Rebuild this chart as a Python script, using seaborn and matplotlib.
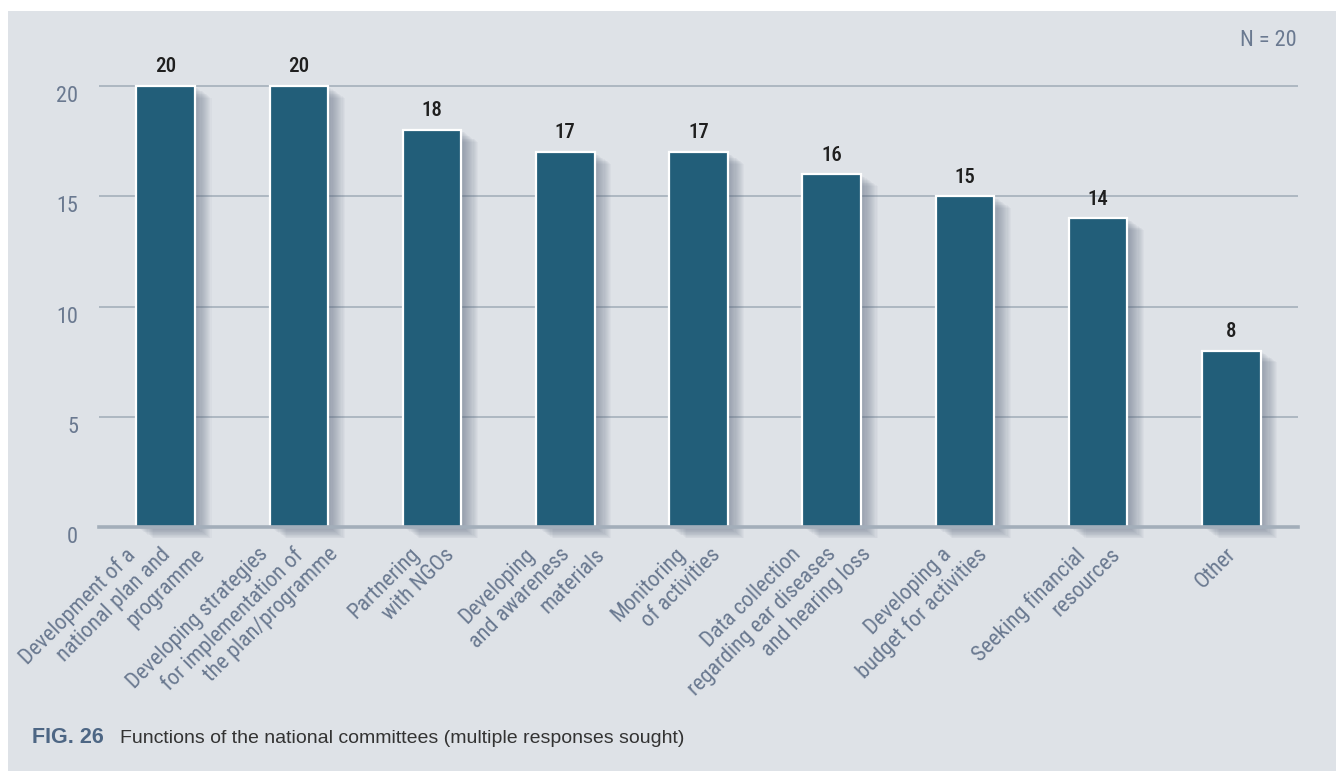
import matplotlib
matplotlib.use("Agg")
import matplotlib.pyplot as plt
import matplotlib.patheffects as pe
from matplotlib import font_manager
from matplotlib import transforms as mtransforms
from matplotlib.patches import Rectangle
import pandas as pd
import seaborn as sns

# Committee functions (one list entry per line of the axis label)
label_lines = [
    ["Development of a", "national plan and", "programme"],
    ["Developing strategies", "for implementation of", "the plan/programme"],
    ["Partnering", "with NGOs"],
    ["Developing", "and awareness", "materials"],
    ["Monitoring", "of activities"],
    ["Data collection", "regarding ear diseases", "and hearing loss"],
    ["Developing a", "budget for activities"],
    ["Seeking financial", "resources"],
    ["Other"],
]
categories = [" ".join(lines) for lines in label_lines]
counts = [20, 20, 18, 17, 17, 16, 15, 14, 8]
y_ticks = [0, 5, 10, 15, 20]
sample_note = "N = 20"
fig_number = "FIG. 26"
caption = "Functions of the national committees (multiple responses sought)"

PANEL = "#dee2e7"
BAR = "#225e79"
GRID = "#a9b4bf"
BASELINE = "#a3aeba"
AXIS_TEXT = "#6a7990"
VALUE_TEXT = "#1f1f1f"
REGULAR = ["Liberation Sans", "DejaVu Sans"]


def narrow_font():
    """Pick a condensed sans-serif face if one is installed."""
    for family, stretch in [("Liberation Sans Narrow", "normal"),
                            ("Roboto Condensed", "normal"),
                            ("DejaVu Sans", "condensed")]:
        try:
            path = font_manager.findfont(
                font_manager.FontProperties(family=family, stretch=stretch),
                fallback_to_default=False)
        except Exception:
            continue
        if stretch == "condensed" and "ondensed" not in path:
            continue
        return family, stretch
    return "DejaVu Sans", "normal"


NARROW, STRETCH = narrow_font()

sns.set_style("white")
plt.rcParams["font.family"] = [NARROW, "DejaVu Sans"]
plt.rcParams["font.stretch"] = STRETCH

W, H = 1336, 771
fig = plt.figure(figsize=(W / 100, H / 100), dpi=100, facecolor="white")
fig.patches.append(Rectangle((8 / W, 0), 1 - 8 / W, 760 / H, transform=fig.transFigure,
                             facecolor=PANEL, edgecolor="none", zorder=-10))

ax = fig.add_axes([99 / W, 244 / H, 1199 / W, 474 / H])
ax.patch.set_visible(False)

df = pd.DataFrame({"function": categories, "count": counts})
sns.barplot(data=df, x="function", y="count", color=BAR, saturation=1, width=0.44,
            edgecolor="white", linewidth=1.6, ax=ax, zorder=3)

# soft drop shadow to the lower right of each bar
shadow = [pe.SimplePatchShadow(offset=(0.8 * k, -0.55 * k), shadow_rgbFace="#56647a", alpha=0.045)
          for k in range(1, 16)]
for bar in ax.patches:
    bar.set_path_effects(shadow + [pe.Normal()])
    bar.set_clip_on(False)

ax.bar_label(ax.containers[0], padding=7, fontsize=15, color=VALUE_TEXT, fontweight="medium")

ax.set_xlim(-0.5, len(counts) - 0.5)
ax.set_ylim(0, 21.5)
ax.set_yticks(y_ticks)
ax.set_xticks(range(len(categories)), [""] * len(categories))
ax.set_xlabel("")
ax.set_ylabel("")
ax.yaxis.grid(True, color=GRID, linewidth=1.3)
ax.set_axisbelow(True)
ax.tick_params(axis="y", length=0, pad=15, labelsize=16, labelcolor=AXIS_TEXT)
ax.tick_params(axis="x", length=0)
for side in ("left", "right", "top"):
    ax.spines[side].set_visible(False)
ax.spines["bottom"].set_color(BASELINE)
ax.spines["bottom"].set_linewidth(2.6)
ax.spines["bottom"].set_zorder(4)

shift = mtransforms.ScaledTranslation(0, -8 / 100, fig.dpi_scale_trans)
for t in ax.get_yticklabels():
    t.set_transform(t.get_transform() + shift)

# rotated category labels, each line anchored on a common horizontal level
xform = ax.get_xaxis_transform()
for i, lines in enumerate(label_lines):
    n = len(lines)
    for j, line in enumerate(lines):
        dx = -6 + (j - (n - 1) / 2) * 35
        ax.annotate(line, xy=(i, 0), xycoords=xform, xytext=(dx * 0.72, -17 * 0.72),
                    textcoords="offset points", ha="right", va="top", rotation=45,
                    rotation_mode="anchor", fontsize=16, color=AXIS_TEXT,
                    annotation_clip=False)

fig.text(1297 / W, 1 - 41 / H, sample_note, ha="right", va="center", fontsize=16, color=AXIS_TEXT)

fig.text(32 / W, 1 - 743 / H, fig_number, ha="left", va="baseline", fontsize=15.5,
         fontweight="bold", color="#4d6684", family=REGULAR, stretch="normal")
fig.text(120 / W, 1 - 743 / H, caption, ha="left", va="baseline", fontsize=14,
         color="#333333", family=REGULAR, stretch="normal")

fig.savefig("out.png", dpi=100, facecolor=fig.get_facecolor())
